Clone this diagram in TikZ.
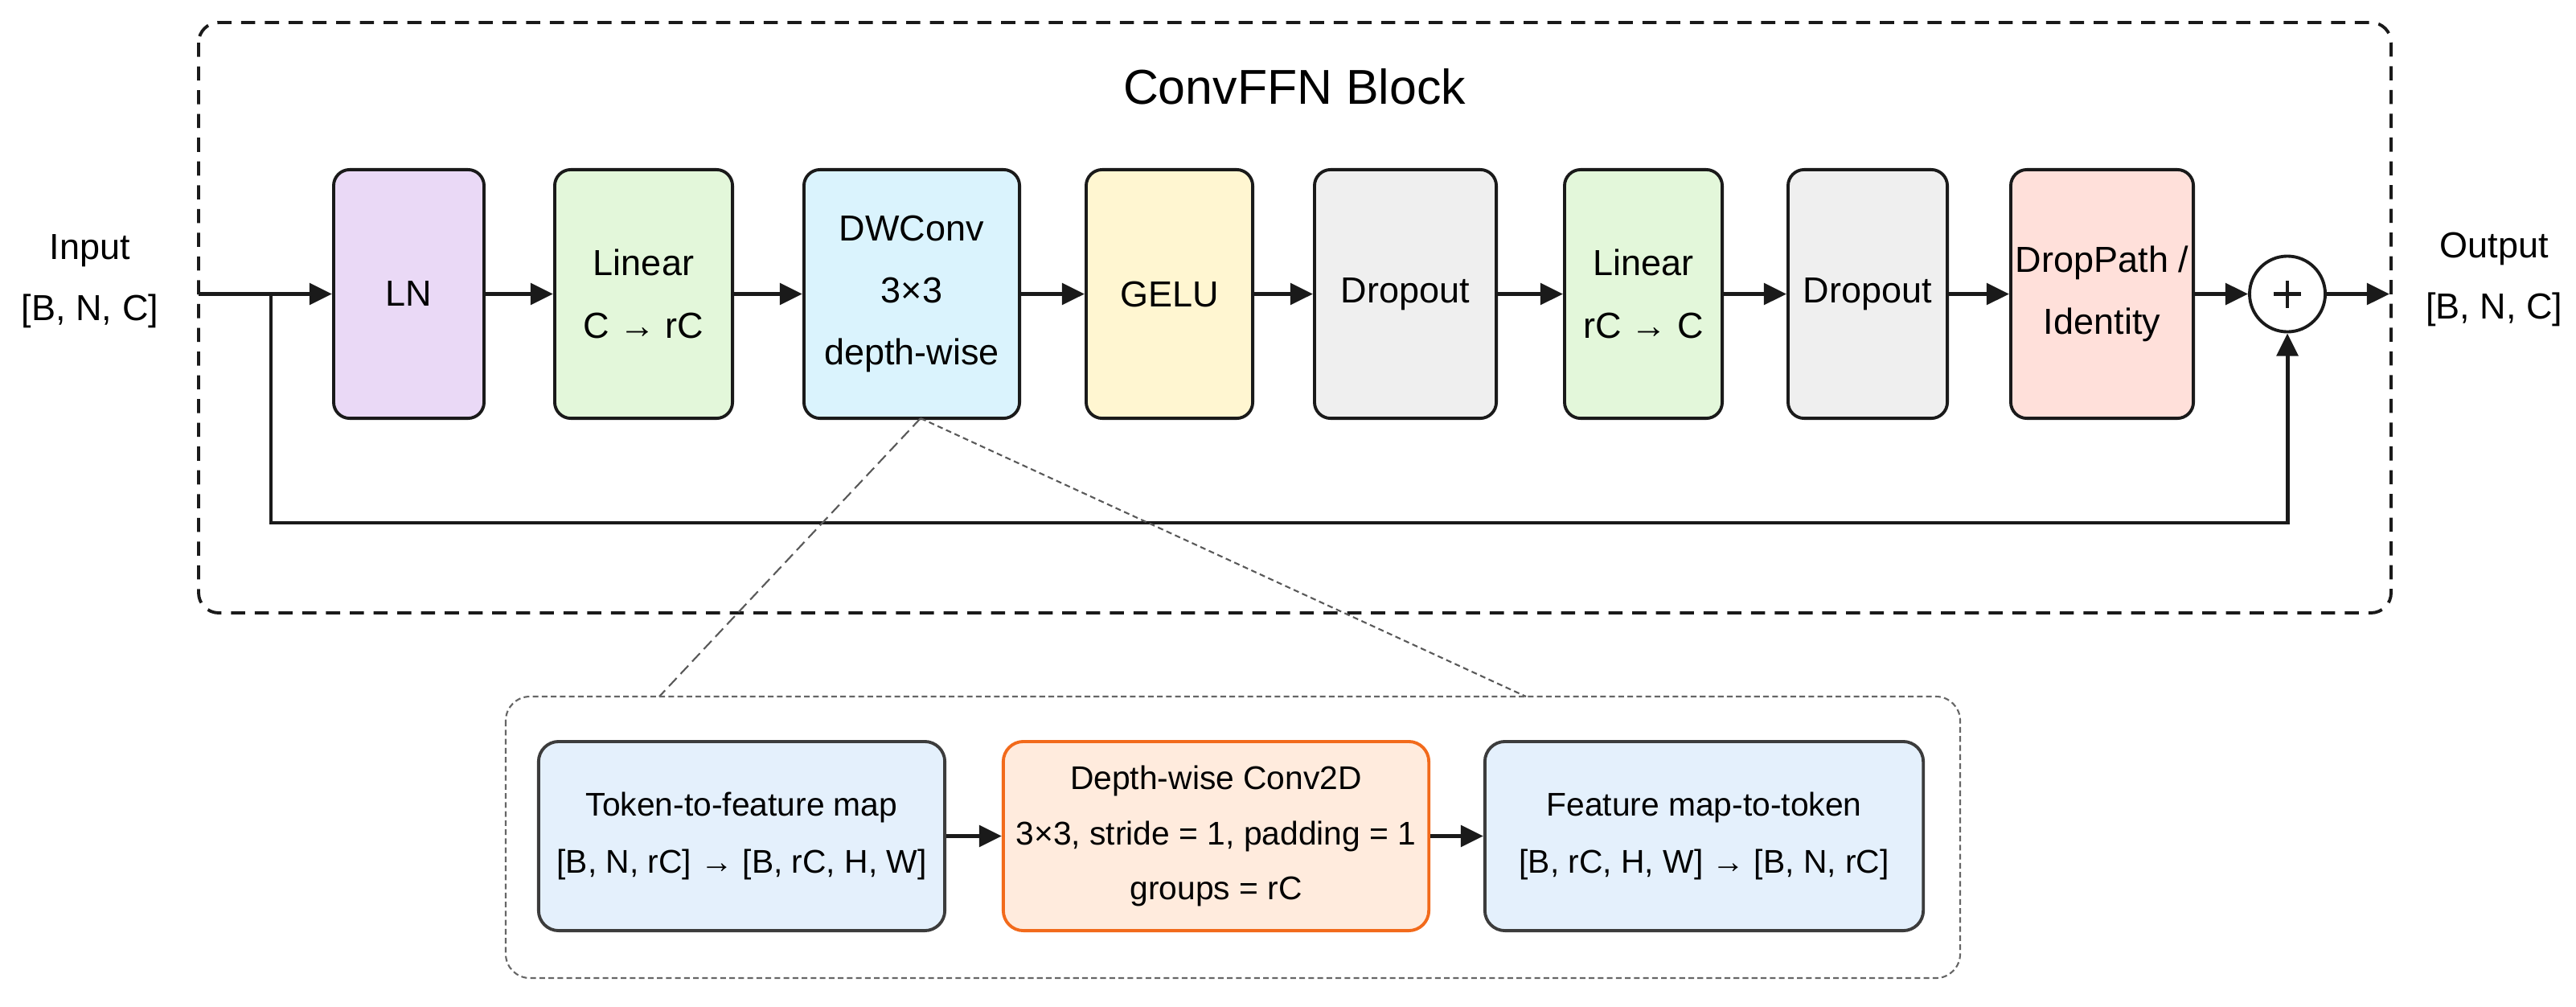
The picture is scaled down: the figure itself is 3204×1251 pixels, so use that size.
\documentclass[tikz,border=0pt]{standalone}
\usepackage{fontspec}
\setmainfont{Liberation Sans}
\usetikzlibrary{arrows.meta}
\definecolor{lnfill}{HTML}{EAD9F6}
\definecolor{linfill}{HTML}{E3F7DA}
\definecolor{dwfill}{HTML}{DAF3FD}
\definecolor{gelufill}{HTML}{FFF6D1}
\definecolor{dropfill}{HTML}{EFEFEF}
\definecolor{dpfill}{HTML}{FFE0DA}
\definecolor{tokfill}{HTML}{E4F0FC}
\definecolor{convfill}{HTML}{FFEBDD}
\definecolor{convdraw}{HTML}{F26A1B}
\definecolor{edge}{HTML}{1A1A1A}
\begin{document}
\begin{tikzpicture}[x=0.01cm,y=-0.01cm,
  blk/.style={draw=edge,line width=1.1pt,rounded corners=0.2cm,align=center,inner sep=0pt,
    minimum height=3.09cm,font=\fontsize{12.8}{22}\selectfont},
  sub/.style={draw=edge!85,line width=1.1pt,rounded corners=0.25cm,align=center,inner sep=0pt,
    minimum height=2.35cm,font=\fontsize{11.6}{20}\selectfont},
  arr/.style={line width=1.4pt,draw=edge,-{Triangle[length=8pt,width=7.5pt]}},
  lbl/.style={align=center,font=\fontsize{12.8}{21.6}\selectfont},
  zoomline/.style={draw=black!65,line width=0.6pt},
]
\useasboundingbox (0,0) rectangle (3204,1251);

% outer dashed frame
\draw[edge,line width=1.1pt,dash pattern=on 5pt off 3.4pt,rounded corners=0.25cm]
  (247,28) rectangle (2974,762);
\node[font=\fontsize{17.3}{20}\selectfont] (title) at (1610,108) {ConvFFN Block};

% main blocks
\node[blk,fill=lnfill,minimum width=1.87cm] (ln) at (508.5,365.5) {LN};
\node[blk,fill=linfill,minimum width=2.21cm] (lin1) at (800.5,365.5) {Linear\\C → rC};
\node[blk,fill=dwfill,minimum width=2.68cm] (dw) at (1134,365.5) {DWConv\\3×3\\depth-wise};
\node[blk,fill=gelufill,minimum width=2.07cm] (gelu) at (1454.5,365.5) {GELU};
\node[blk,fill=dropfill,minimum width=2.26cm] (drop1) at (1748,365.5) {Dropout};
\node[blk,fill=linfill,minimum width=1.96cm] (lin2) at (2044,365.5) {Linear\\rC → C};
\node[blk,fill=dropfill,minimum width=1.98cm] (drop2) at (2323,365.5) {Dropout};
\node[blk,fill=dpfill,minimum width=2.27cm] (dp) at (2614.5,365.5) {DropPath /\\Identity};
\node[circle,draw=edge,line width=1.1pt,fill=white,minimum size=0.94cm,inner sep=0pt] (plus) at (2845,365.5) {};
\draw[edge,line width=1.2pt] ([xshift=-0.17cm]plus.center) -- ([xshift=0.17cm]plus.center);
\draw[edge,line width=1.2pt] ([yshift=-0.17cm]plus.center) -- ([yshift=0.17cm]plus.center);

% labels
\node[lbl] (inlbl) at (112,350) {Input\\{}[B, N, C]};
\node[lbl] (outlbl) at (3102,347) {Output\\{}[B, N, C]};

% connectors
\coordinate (in) at (247,365.5);
\coordinate (br) at (337,365.5);
\coordinate (sk) at (337,650);
\coordinate (out) at (2972,365.5);
\draw[arr] (in) -- (ln);
\draw[arr] (ln) -- (lin1);
\draw[arr] (lin1) -- (dw);
\draw[arr] (dw) -- (gelu);
\draw[arr] (gelu) -- (drop1);
\draw[arr] (drop1) -- (lin2);
\draw[arr] (lin2) -- (drop2);
\draw[arr] (drop2) -- (dp);
\draw[arr] (dp) -- (plus);
\draw[arr] (plus) -- (out);
\draw[arr] (br) -- (sk) -| (plus.south);

% zoom-in detail
\coordinate (zs) at (1145,520);
\coordinate (zl) at (820,866);
\coordinate (zr) at (1898,866);
\draw[zoomline,dash pattern=on 4pt off 2pt] (zs) -- (zl);
\draw[zoomline,dash pattern=on 2pt off 1.3pt] (zs) -- (zr);
\draw[draw=black!60,line width=0.6pt,dash pattern=on 2pt off 1.2pt,rounded corners=0.3cm]
  (629,866) rectangle (2438,1216);

\node[sub,fill=tokfill,minimum width=5.05cm] (b1) at (922.5,1039.5)
  {Token-to-feature map\\{}[B, N, rC] → [B, rC, H, W]};
\node[sub,fill=convfill,draw=convdraw,minimum width=5.29cm,font=\fontsize{11.6}{19.4}\selectfont] (b2) at (1512.5,1039.5)
  {Depth-wise Conv2D\\3×3, stride = 1, padding = 1\\groups = rC};
\node[sub,fill=tokfill,minimum width=5.45cm] (b3) at (2119.5,1039.5)
  {Feature map-to-token\\{}[B, rC, H, W] → [B, N, rC]};
\draw[arr] (b1) -- (b2);
\draw[arr] (b2) -- (b3);
\end{tikzpicture}
\end{document}
